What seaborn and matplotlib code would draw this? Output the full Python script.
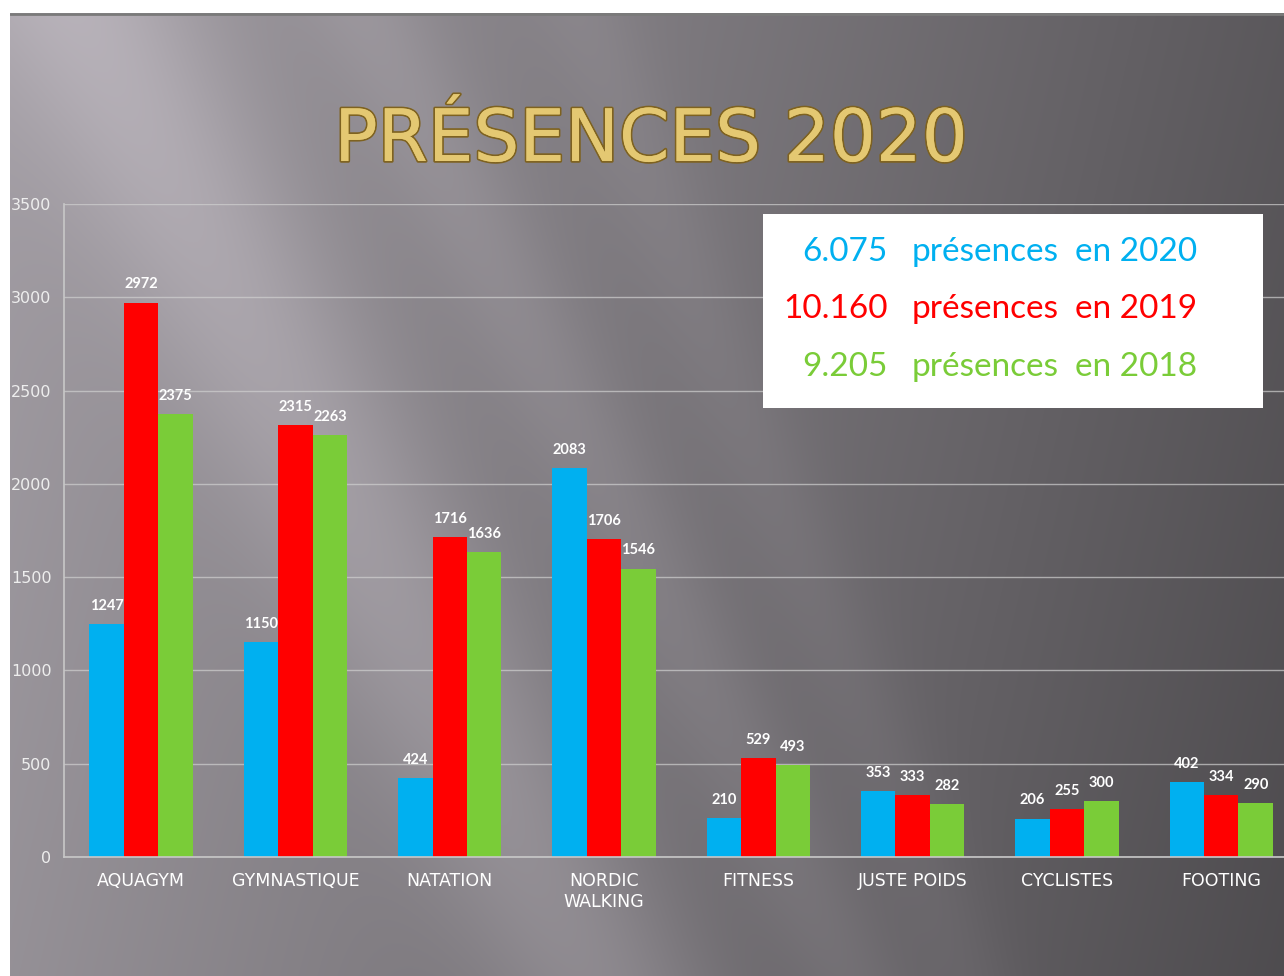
import numpy as np
import pandas as pd
import matplotlib
matplotlib.use("Agg")
import matplotlib.pyplot as plt
import matplotlib.patheffects as pe
import seaborn as sns

# =====================================================
# DATA
# =====================================================

categories = ["AQUAGYM", "GYMNASTIQUE", "NATATION", "NORDIC\nWALKING",
              "FITNESS", "JUSTE POIDS", "CYCLISTES", "FOOTING"]
years = ["2020", "2019", "2018"]

values_2020 = [1247, 1150, 424, 2083, 210, 353, 206, 402]
values_2019 = [2972, 2315, 1716, 1706, 529, 333, 255, 334]
values_2018 = [2375, 2263, 1636, 1546, 493, 282, 300, 290]

totals = ["6.075", "10.160", "9.205"]
colors = ["#00B0F0", "#FF0000", "#7ACC38"]
y_ticks = [0, 500, 1000, 1500, 2000, 2500, 3000, 3500]

df = pd.DataFrame({
    "categorie": categories * 3,
    "annee": np.repeat(years, len(categories)),
    "presences": values_2020 + values_2019 + values_2018,
})

# =====================================================
# FIGURE + SLIDE BACKGROUND
# =====================================================

sns.set_style("white")
plt.rcParams["font.family"] = ["Lato", "DejaVu Sans"]

fig = plt.figure(figsize=(12.84, 9.76), dpi=100, facecolor="white")

bg_ax = fig.add_axes([10 / 1284, 0, 1274 / 1284, 963 / 976], zorder=-5)
H, W = 963, 1274
yy, xx = np.mgrid[0:H, 0:W]
u = xx / W
v = yy / H
base = 0.64 - 0.28 * u - 0.05 * v
ray1 = 0.10 * np.exp(-((u - (0.06 + 0.40 * v)) / 0.09) ** 2)
ray2 = 0.05 * np.exp(-((u - (0.28 + 0.38 * v)) / 0.05) ** 2)
ray3 = 0.03 * np.exp(-((u - (0.45 + 0.30 * v)) / 0.04) ** 2)
lum = np.clip(base + ray1 + ray2 + ray3, 0, 1)
img = np.dstack([lum * 0.99, lum * 0.96, lum * 1.0])
bg_ax.imshow(np.clip(img, 0, 1), aspect="auto", extent=[0, 1, 0, 1])
bg_ax.axhline(0.999, color="#7a7a7a", lw=2)
bg_ax.axis("off")

# title
fig.text(0.507, 0.855, "PRÉSENCES 2020", ha="center", va="center",
         fontsize=52, color="#E4C872", family=["DejaVu Sans"],
         path_effects=[pe.withStroke(linewidth=2.5, foreground="#7E6220"),
                       pe.Normal()])

# =====================================================
# BAR CHART
# =====================================================

ax = fig.add_axes([64 / 1284, 119 / 976, 1 - 64 / 1284, 653 / 976])
ax.patch.set_alpha(0)

sns.barplot(
    data=df,
    x="categorie",
    y="presences",
    hue="annee",
    order=categories,
    hue_order=years,
    palette=colors,
    saturation=1,
    width=0.67,
    linewidth=0,
    edgecolor="none",
    legend=False,
    ax=ax,
)

for container in ax.containers:
    ax.bar_label(container, fmt="%d", padding=8, color="white",
                 fontsize=10.5, fontweight="bold")

ax.set_ylim(0, 3500)
ax.set_xlim(-0.5, -0.5 + (1284 - 64) / 154.3)
ax.set_yticks(y_ticks)
ax.set_xlabel("")
ax.set_ylabel("")

ax.yaxis.grid(True, color="#d0d0d0", linewidth=1, alpha=0.7)
ax.set_axisbelow(True)

for side in ["top", "right"]:
    ax.spines[side].set_visible(False)
for side in ["left", "bottom"]:
    ax.spines[side].set_color("#c8c8c8")
    ax.spines[side].set_linewidth(1.2)

ax.tick_params(axis="y", colors="#c8c8c8", labelcolor="#eeeeee",
               labelsize=11.5, length=6, width=1, direction="out", pad=3)
ax.tick_params(axis="x", which="major", length=0, labelcolor="white",
               labelsize=12.5, pad=11)
for lab in ax.get_yticklabels() + ax.get_xticklabels():
    lab.set_family(["DejaVu Sans"])
ax.set_xticks(np.arange(len(categories)) - 0.5, minor=True)
ax.tick_params(axis="x", which="minor", length=6, color="#c8c8c8", width=1)

# =====================================================
# TOTALS BOX
# =====================================================

fig.patches.append(plt.Rectangle((763 / 1284, 1 - 408 / 976),
                                 500 / 1284, 194 / 976,
                                 transform=fig.transFigure,
                                 facecolor="white", edgecolor="none",
                                 zorder=3))

line_y = [252, 309, 367]
for total, year, color, py in zip(totals, years, colors, line_y):
    yf = 1 - py / 976
    fig.text(888 / 1284, yf, total, ha="right", va="center",
             fontsize=24, color=color, zorder=4)
    fig.text(912 / 1284, yf, "présences", ha="left", va="center",
             fontsize=24, color=color, zorder=4)
    fig.text(1075 / 1284, yf, "en " + year, ha="left", va="center",
             fontsize=24, color=color, zorder=4)

fig.savefig("out.png", dpi=100, facecolor=fig.get_facecolor())
plt.close()
